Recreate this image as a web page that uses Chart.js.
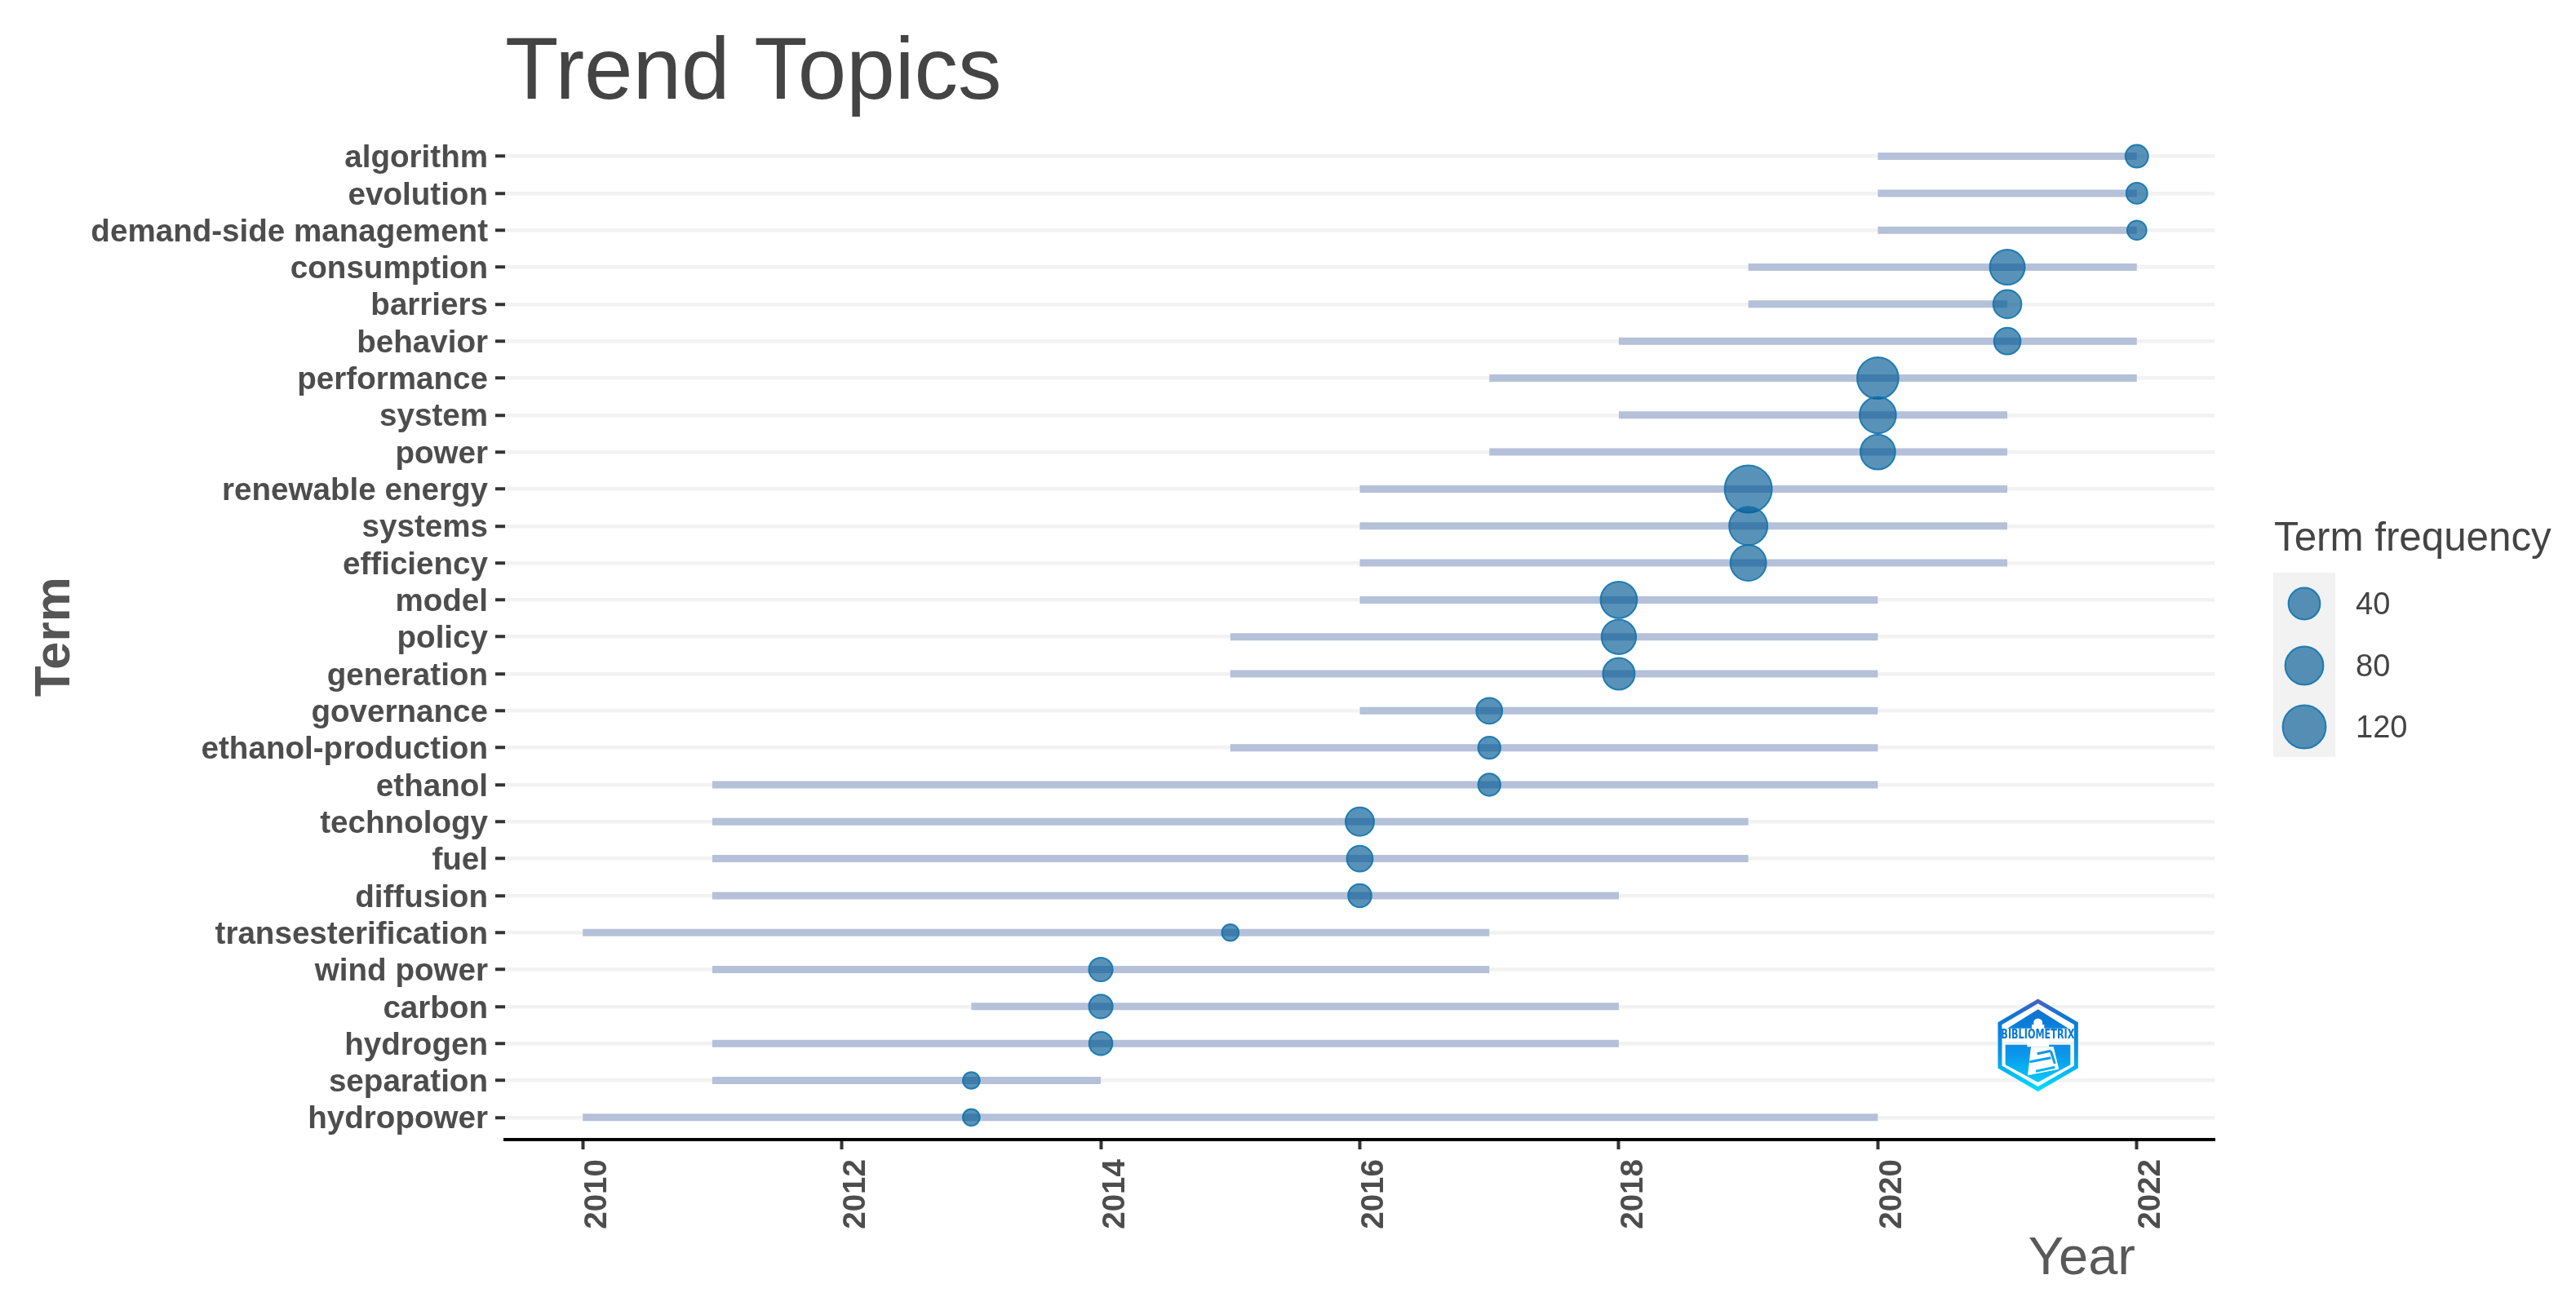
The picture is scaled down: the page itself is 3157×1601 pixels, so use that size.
<!DOCTYPE html>
<html>
<head>
<meta charset="utf-8">
<title>Trend Topics</title>
<script src="https://cdn.jsdelivr.net/npm/chart.js@4"></script>
<style>
html,body{margin:0;padding:0;background:#fff;width:3157px;height:1601px;overflow:hidden}
canvas{display:block}
</style>
</head>
<body>
<canvas id="c" width="3157" height="1601"></canvas>
<script>
const terms = ["algorithm","evolution","demand-side management","consumption","barriers","behavior","performance","system","power","renewable energy","systems","efficiency","model","policy","generation","governance","ethanol-production","ethanol","technology","fuel","diffusion","transesterification","wind power","carbon","hydrogen","separation","hydropower"];
const startYear = [2020,2020,2020,2019,2019,2018,2017,2018,2017,2016,2016,2016,2016,2015,2015,2016,2015,2011,2011,2011,2011,2010,2011,2013,2011,2011,2010];
const endYear   = [2022,2022,2022,2022,2021,2022,2022,2021,2021,2021,2021,2021,2020,2020,2020,2020,2020,2020,2019,2019,2018,2017,2017,2018,2018,2014,2020];
const medianYear= [2022,2022,2022,2021,2021,2021,2020,2020,2020,2019,2019,2019,2018,2018,2018,2017,2017,2017,2016,2016,2016,2015,2014,2014,2014,2013,2013];
const frequency = [9,6,4,59,25,19,105,68,58,160,81,64,68,56,41,17,8,8,26,17,10,3,11,11,10,3,3];
const yearTicks = [2010,2012,2014,2016,2018,2020,2022];
const legendValues = [40,80,120];

const SANS = '"Liberation Sans", Arial, sans-serif';
const TEXT = '#4d4d4d';
const FILL = 'rgba(0,88,146,0.65)';
const EDGE = 'rgba(16,118,174,0.9)';
const EDGE_W = 2;

// Area-style size scale for the bubbles
function radius(v){
  const t = Math.max(0,(v-3)/157);
  return 11.35 + 18.65*Math.sqrt(t) - EDGE_W/2;
}

const lineDatasets = terms.map((t,i)=>({
  type:'line', label:t, order:2,
  data:[{x:startYear[i],y:i},{x:endYear[i],y:i}],
  borderColor:'#b5c0d9', borderWidth:9, borderCapStyle:'butt',
  pointRadius:0, pointHoverRadius:0, fill:false, tension:0
}));
const bubbleDataset = {
  type:'bubble', label:'Term frequency', order:1,
  data:terms.map((t,i)=>({x:medianYear[i],y:i,r:radius(frequency[i])})),
  backgroundColor:FILL, borderColor:EDGE, borderWidth:EDGE_W, hoverRadius:0
};

const decorations = {
  id:'decorations',
  afterDraw(chart){
    const g = chart.ctx;
    g.save();
    // x axis title
    g.fillStyle = '#595959';
    g.font = '65px '+SANS;
    g.textAlign = 'right'; g.textBaseline = 'alphabetic';
    g.fillText('Year',2617,1562);

    // size legend
    g.fillStyle = '#444444';
    g.font = '49.3px '+SANS;
    g.textAlign = 'left';
    g.fillText('Term frequency',2787,675);
    g.fillStyle = '#f2f2f2';
    g.fillRect(2786,702,76,226);
    const ly = [740,816,891];
    legendValues.forEach((v,i)=>{
      g.beginPath(); g.arc(2824,ly[i],radius(v),0,Math.PI*2);
      g.fillStyle = FILL; g.fill();
      g.lineWidth = EDGE_W; g.strokeStyle = EDGE; g.stroke();
      g.fillStyle = '#444444';
      g.font = '38px '+SANS;
      g.textAlign = 'left'; g.textBaseline = 'middle';
      g.fillText(String(v),2887,ly[i]+3);
      g.textBaseline = 'alphabetic';
    });

    // Bibliometrix badge
    const P = (x,y)=>[2300+x/3,1150+y/3];
    const poly = pts=>{ g.beginPath(); pts.forEach((p,i)=>{const q=P(p[0],p[1]); i?g.lineTo(q[0],q[1]):g.moveTo(q[0],q[1]);}); g.closePath(); };
    const grad = g.createLinearGradient(0,1225,0,1337);
    grad.addColorStop(0,'#4a5fc4'); grad.addColorStop(0.2,'#0a78d6'); grad.addColorStop(0.6,'#0b96ea'); grad.addColorStop(1,'#00dcff');
    poly([[593,232],[733,314],[733,474],[593,555],[453,474],[453,314]]);
    g.lineWidth = 5; g.lineJoin = 'miter'; g.strokeStyle = grad; g.stroke();
    g.fillStyle = grad;
    poly([[593,262],[705,332],[480,332]]); g.fill();
    poly([[473,392],[712,392],[712,466],[593,530],[473,466]]); g.fill();
    // lighthouse
    g.fillStyle = '#ffffff';
    const c = P(593,312);
    g.beginPath(); g.arc(c[0],c[1],5.5,0,Math.PI*2); g.fill();
    poly([[570,318],[616,318],[616,342],[570,342]]); g.fill();
    poly([[553,376],[632,376],[634,400],[553,400]]); g.fill();
    poly([[567,400],[650,400],[670,482],[555,505]]); g.fill();
    g.strokeStyle = grad; g.lineWidth = 3; g.lineCap = 'butt';
    [[[562,455],[640,440]],[[590,425],[640,415]],[[585,490],[655,475]]].forEach(s=>{
      const a=P(s[0][0],s[0][1]), b=P(s[1][0],s[1][1]);
      g.beginPath(); g.moveTo(a[0],a[1]); g.lineTo(b[0],b[1]); g.stroke();
    });
    const s1=P(640,415), s2=P(655,462);
    g.beginPath(); g.moveTo(s1[0],s1[1]); g.lineTo(s2[0],s2[1]); g.stroke();
    // band text
    g.fillStyle = '#0a78d6';
    g.font = 'bold 15px "DejaVu Sans", '+SANS;
    g.textAlign = 'center'; g.textBaseline = 'middle';
    const t = P(592,358);
    g.fillText('BIBLIOMETRIX',t[0],t[1],90);
    g.restore();
  }
};

new Chart(document.getElementById('c').getContext('2d'),{
  type:'bubble',
  data:{datasets:[bubbleDataset,...lineDatasets]},
  plugins:[decorations],
  options:{
    responsive:false, animation:false, devicePixelRatio:1,
    events:[],
    layout:{padding:{left:0,right:443,top:0,bottom:0}},
    plugins:{
      legend:{display:false},
      tooltip:{enabled:false},
      title:{
        display:true, text:'Trend Topics', align:'start', fullSize:false,
        color:'#444444', font:{family:SANS,size:107,weight:'normal'},
        padding:{top:27,bottom:9}
      }
    },
    scales:{
      x:{
        type:'linear', min:2009.4, max:2022.6,
        afterBuildTicks:s=>{s.ticks=yearTicks.map(v=>({value:v}));},
        afterFit:s=>{s.height=204;},
        grid:{drawOnChartArea:false,tickColor:'#333333',tickWidth:4,tickLength:12},
        border:{display:true,color:'#000000',width:4},
        ticks:{
          callback:v=>String(v), autoSkip:false,
          minRotation:90,maxRotation:90,padding:12,labelOffset:18,
          color:TEXT,font:{family:SANS,size:38.6,weight:'bold'}
        }
      },
      y:{
        type:'linear', reverse:true, min:-0.6, max:26.6,
        afterBuildTicks:s=>{s.ticks=terms.map((t,i)=>({value:i}));},
        afterFit:s=>{s.width=619;},
        grid:{color:'#f2f2f2',lineWidth:4.5,tickColor:'#333333',tickWidth:4,tickLength:12},
        border:{display:false},
        title:{
          display:true,text:'Term',color:'#555555',
          font:{family:SANS,size:62,weight:'bold'},
          padding:{top:31,bottom:0}
        },
        ticks:{
          callback:v=>terms[v], autoSkip:false, padding:9, labelOffset:3,
          color:TEXT,font:{family:SANS,size:38.6,weight:'bold'}
        }
      }
    }
  }
});
</script>
</body>
</html>
